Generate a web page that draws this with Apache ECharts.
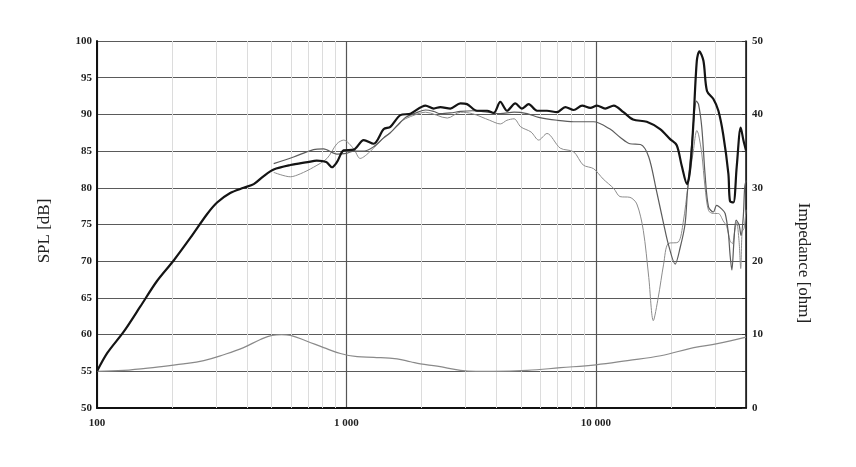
<!DOCTYPE html>
<html>
<head>
<meta charset="utf-8">
<script src="https://cdn.jsdelivr.net/npm/echarts@6/dist/echarts.min.js"></script>
<style>
  html, body { margin: 0; padding: 0; background: #fff; }
  #chart { width: 856px; height: 467px; }
</style>
</head>
<body>
<div id="chart"></div>
<script>
// on-axis SPL (thick black)
const freq0 = [100, 110, 128, 149, 174, 203, 237, 276, 303, 342, 387, 425, 466, 511, 596, 700, 760, 830, 875, 920, 975, 1070, 1173, 1286, 1412, 1500, 1645, 1806, 2075, 2240, 2380, 2610, 2865, 3045, 3340, 3665, 3895, 4140, 4405, 4755, 5055, 5380, 5810, 6370, 6985, 7545, 8150, 8810, 9510, 10100, 10900, 11800, 12900, 14100, 16000, 18100, 19900, 21100, 22100, 23200, 23900, 24600, 25400, 26000, 27000, 27900, 29600, 31000, 32400, 34000, 34500, 35600, 36700, 38100, 39100, 40000]
const spl0 = [55, 57.5, 60.4, 63.8, 67.3, 70.1, 73.2, 76.4, 78.0, 79.3, 80.0, 80.5, 81.6, 82.5, 83.1, 83.5, 83.7, 83.5, 82.8, 83.6, 85.1, 85.2, 86.5, 86.0, 88.0, 88.3, 89.9, 90.1, 91.2, 90.8, 91.0, 90.8, 91.5, 91.4, 90.5, 90.5, 90.2, 91.7, 90.5, 91.5, 90.8, 91.4, 90.5, 90.5, 90.3, 91.0, 90.6, 91.2, 90.9, 91.2, 90.8, 91.2, 90.3, 89.3, 89.0, 88.0, 86.6, 85.8, 83.0, 80.5, 82.6, 88.7, 97.3, 98.6, 97.3, 93.2, 92.1, 90.5, 87.3, 81.9, 78.2, 78.0, 82.8, 88.2, 86.4, 85.1]

// off-axis SPL (mid grey)
const freqB = [511, 614, 738, 809, 916, 1000, 1070, 1180, 1286, 1412, 1500, 1645, 1730, 1900, 2075, 2240, 2380, 2610, 2865, 3200, 3665, 4140, 4700, 5300, 5900, 7000, 8150, 9800, 11400, 12500, 13700, 15100, 16300, 17500, 18700, 19500, 20800, 21800, 22800, 23300, 24300, 25300, 25800, 26600, 27400, 28300, 29600, 30500, 32000, 33000, 34000, 34500, 35100, 35800, 36500, 37500, 38200, 39000, 39500, 40000]
const splB = [83.3, 84.2, 85.2, 85.3, 84.6, 84.7, 85.0, 85.0, 85.6, 86.8, 87.5, 88.9, 89.6, 90.2, 90.6, 90.4, 90.1, 90.2, 90.4, 90.5, 90.3, 90.1, 90.3, 90.1, 89.6, 89.2, 89.0, 89.0, 88.0, 86.9, 86.0, 85.9, 84.2, 79.6, 75.1, 72.4, 69.6, 71.9, 75.1, 79.5, 86.4, 91.8, 91.4, 88.2, 81.9, 77.4, 76.7, 77.6, 77.1, 76.5, 73.8, 71.0, 68.8, 72.8, 75.6, 75.0, 73.5, 76.0, 80.0, 81.0]

// off-axis SPL (light grey)
const freqC = [511, 596, 653, 738, 836, 916, 975, 1070, 1135, 1250, 1412, 1500, 1650, 1806, 2075, 2540, 2865, 3200, 3750, 4140, 4400, 4700, 5000, 5500, 5900, 6370, 7200, 8150, 8900, 9800, 10700, 11800, 12500, 13700, 14600, 15500, 16300, 17000, 17800, 18700, 19500, 21400, 22400, 23400, 24600, 25400, 25800, 26600, 27400, 28300, 29600, 31000, 32400, 33500, 34500, 35300, 36000, 36700, 37500, 38100, 38600, 39300, 40000]
const splC = [82.1, 81.5, 81.9, 82.8, 84.0, 86.0, 86.5, 85.3, 84.0, 85.0, 86.9, 87.5, 89.0, 89.7, 90.3, 89.5, 90.3, 90.1, 89.2, 88.7, 89.2, 89.4, 88.3, 87.6, 86.5, 87.4, 85.4, 84.9, 83.1, 82.6, 81.2, 79.9, 78.8, 78.7, 77.8, 74.2, 67.8, 61.9, 65.1, 69.6, 72.4, 72.6, 75.3, 80.1, 85.0, 87.8, 87.3, 84.6, 80.1, 76.9, 76.5, 76.5, 75.5, 74.7, 72.8, 72.4, 74.0, 75.3, 72.8, 69.0, 74.0, 74.5, 77.0]

// impedance (right axis)
const freqZ = [100, 128, 174, 222, 268, 322, 387, 452, 503, 550, 596, 695, 811, 946, 1104, 1286, 1596, 1807, 1981, 2311, 2866, 3300, 3896, 5300, 7220, 10000, 13400, 18200, 24700, 30700, 40000]
const ohm = [5.0, 5.13, 5.58, 6.0, 6.46, 7.26, 8.23, 9.34, 9.9, 10.0, 9.9, 9.1, 8.23, 7.43, 7.0, 6.9, 6.68, 6.3, 6.0, 5.7, 5.13, 5.0, 5.0, 5.13, 5.49, 5.88, 6.46, 7.12, 8.23, 8.76, 9.65]

// light vertical grid between decades
const minorFreq = [200, 300, 400, 500, 600, 700, 800, 900, 2000, 3000, 4000, 5000, 6000, 7000, 8000, 9000, 20000, 30000]

const font = 'Liberation Serif'
const pairs = (xs, ys) => xs.map((x, i) => [x, ys[i]])

const myChart = echarts.init(document.getElementById('chart'))
myChart.setOption({
  animation: false,
  grid: { left: 97, right: 110, top: 41, bottom: 59 },
  xAxis: {
    type: 'log',
    logBase: 10,
    min: 100,
    max: 40000,
    axisLine: { lineStyle: { color: '#111', width: 2 } },
    axisTick: { show: false },
    axisLabel: {
      margin: 10,
      color: '#222',
      fontFamily: font,
      fontWeight: 'bold',
      fontSize: 11,
      formatter: (v) => {
        const l = Math.log10(v)
        if (Math.abs(l - Math.round(l)) > 0.01) return ''
        return String(Math.round(v)).replace(/\B(?=(\d{3})+(?!\d))/g, ' ')
      },
    },
    splitLine: { show: true, lineStyle: { color: '#555', width: 1.2 } },
  },
  yAxis: [
    {
      type: 'value',
      min: 50,
      max: 100,
      interval: 5,
      axisLine: { show: true, lineStyle: { color: '#111', width: 2 } },
      axisTick: { show: false },
      axisLabel: { margin: 5, color: '#222', fontFamily: font, fontWeight: 'bold', fontSize: 11 },
      splitLine: { lineStyle: { color: '#5a5a5a', width: 1.2 } },
    },
    {
      type: 'value',
      min: 0,
      max: 50,
      interval: 10,
      position: 'right',
      axisLine: { show: true, lineStyle: { color: '#111', width: 1.5 } },
      axisTick: { show: true, inside: true, length: 4, lineStyle: { color: '#333' } },
      minorTick: { show: true, splitNumber: 2, length: 4, lineStyle: { color: '#333' } },
      axisLabel: { margin: 6, color: '#222', fontFamily: font, fontWeight: 'bold', fontSize: 11 },
      splitLine: { show: false },
    },
  ],
  graphic: [
    {
      type: 'text',
      x: 45,
      y: 231,
      rotation: Math.PI / 2,
      style: { text: 'SPL [dB]', font: '17px "Liberation Serif"', fill: '#222', textAlign: 'center', textVerticalAlign: 'middle' },
    },
    {
      type: 'text',
      x: 803,
      y: 263,
      rotation: -Math.PI / 2,
      style: { text: 'Impedance [ohm]', font: '17px "Liberation Serif"', fill: '#222', textAlign: 'center', textVerticalAlign: 'middle' },
    },
  ],
  series: [
    {
      name: 'Impedance',
      type: 'line',
      yAxisIndex: 1,
      data: pairs(freqZ, ohm),
      smooth: 0.4,
      showSymbol: false,
      lineStyle: { color: '#8a8a8a', width: 1.2 },
      z: 3,
      markLine: {
        silent: true,
        symbol: 'none',
        label: { show: false },
        lineStyle: { color: '#dcdcdc', width: 1, type: 'solid' },
        data: minorFreq.map((f) => ({ xAxis: f })),
        z: 1,
      },
    },
    {
      name: 'SPL C',
      type: 'line',
      data: pairs(freqC, splC),
      smooth: 0.3,
      showSymbol: false,
      lineStyle: { color: '#8c8c8c', width: 1 },
      z: 4,
    },
    {
      name: 'SPL B',
      type: 'line',
      data: pairs(freqB, splB),
      smooth: 0.3,
      showSymbol: false,
      lineStyle: { color: '#5c5c5c', width: 1.2 },
      z: 5,
    },
    {
      name: 'SPL 0',
      type: 'line',
      data: pairs(freq0, spl0),
      smooth: 0.3,
      showSymbol: false,
      lineStyle: { color: '#141414', width: 2.2 },
      z: 6,
    },
  ],
})
</script>
</body>
</html>
